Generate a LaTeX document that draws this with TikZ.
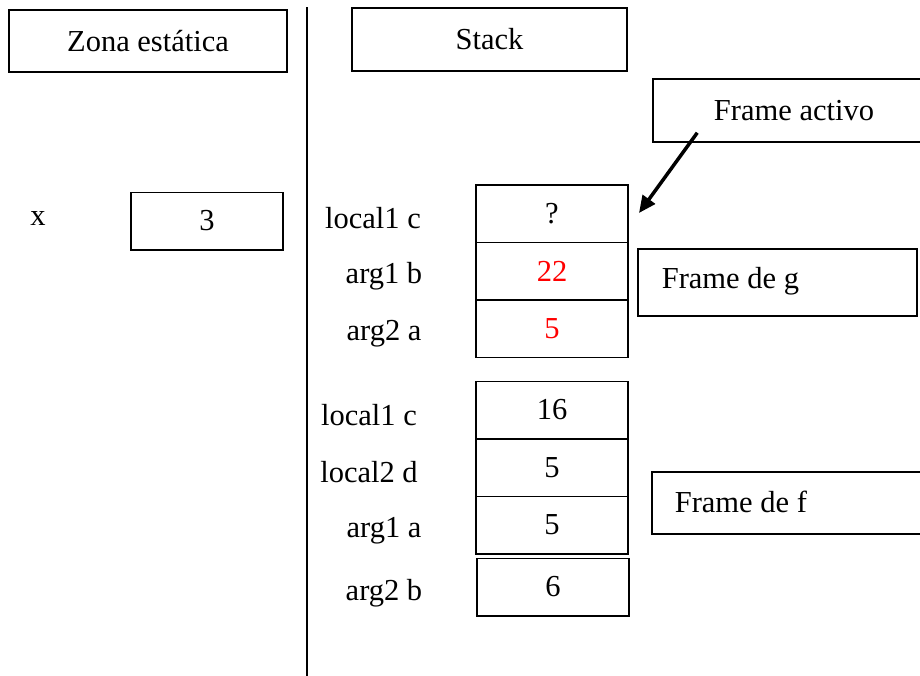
\documentclass[tikz,border=0pt]{standalone}
\usepackage{fontspec}
\setmainfont{Liberation Serif}
\usetikzlibrary{arrows.meta}

\begin{document}
\begin{tikzpicture}[x=1pt, y=-1pt,
    every node/.style={font=\fontsize{30.5}{36}\selectfont},
    caja/.style={draw, line width=1.5pt, inner sep=0pt},
    celda/.style={caja, minimum width=152pt, minimum height=57.5pt}]
    \useasboundingbox (0, 0) rectangle (920, 675);

    % Separador
    \coordinate (sup) at (307, 7);
    \coordinate (inf) at (307, 682);
    \draw[line width=1.5pt] (sup) -- (inf);

    % Titulos
    \node[caja, minimum width=278pt, minimum height=62pt] (zona) at (148, 41)
    {Zona estática};
    \node[caja, minimum width=275pt, minimum height=63pt] (stack) at (489.5, 39.5)
    {Stack};

    % Zona estatica
    \node[anchor=base] (xnom) at (38, 225) {x};
    \node[celda] (xval) at (207, 221) {3};

    % Frame de g
    \foreach \i/\nom/\xl/\yl/\val/\yc/\col in {1/local1 c/373/228/?/213.5/black,
      2/arg1 b/384/283/22/271/red, 3/arg2 a/384/340/5/328.5/red} {
      \node[anchor=base] (gn\i) at (\xl, \yl) {\nom};
      \node[celda, text=\col] (g\i) at (552, \yc) {\val};
    }

    % Frame de f
    \foreach \i/\nom/\xl/\yl/\val/\yc in {1/local1 c/369/425/16/410,
      2/local2 d/369/482/5/467.5, 3/arg1 a/384/537/5/525} {
      \node[anchor=base] (fn\i) at (\xl, \yl) {\nom};
      \node[celda] (f\i) at (552, \yc) {\val};
    }
    \node[anchor=base] (fn4) at (384, 600) {arg2 b};
    \node[celda] (f4) at (553, 587) {6};

    % Etiquetas
    \node[caja, minimum width=282pt, minimum height=63pt] (activo) at (794, 110.5)
    {Frame activo};
    \node[caja, minimum width=279pt, minimum height=67pt] (fg) at (777.5, 282.5) {};
    \node[anchor=base west] (fgt) at ([xshift=21pt]fg.west |- 0, 288) {Frame de g};
    \node[caja, minimum width=283pt, minimum height=62pt] (ff) at (793.5, 503) {};
    \node[anchor=base west] (fft) at ([xshift=20pt]ff.west |- 0, 512) {Frame de f};

    % Flecha
    \coordinate (punta) at (639, 213);
    \draw[line width=3.5pt, -{Triangle[length=17pt, width=15pt]}]
    ([xshift=45pt, yshift=10pt]activo.south west) -- (punta);
\end{tikzpicture}
\end{document}
